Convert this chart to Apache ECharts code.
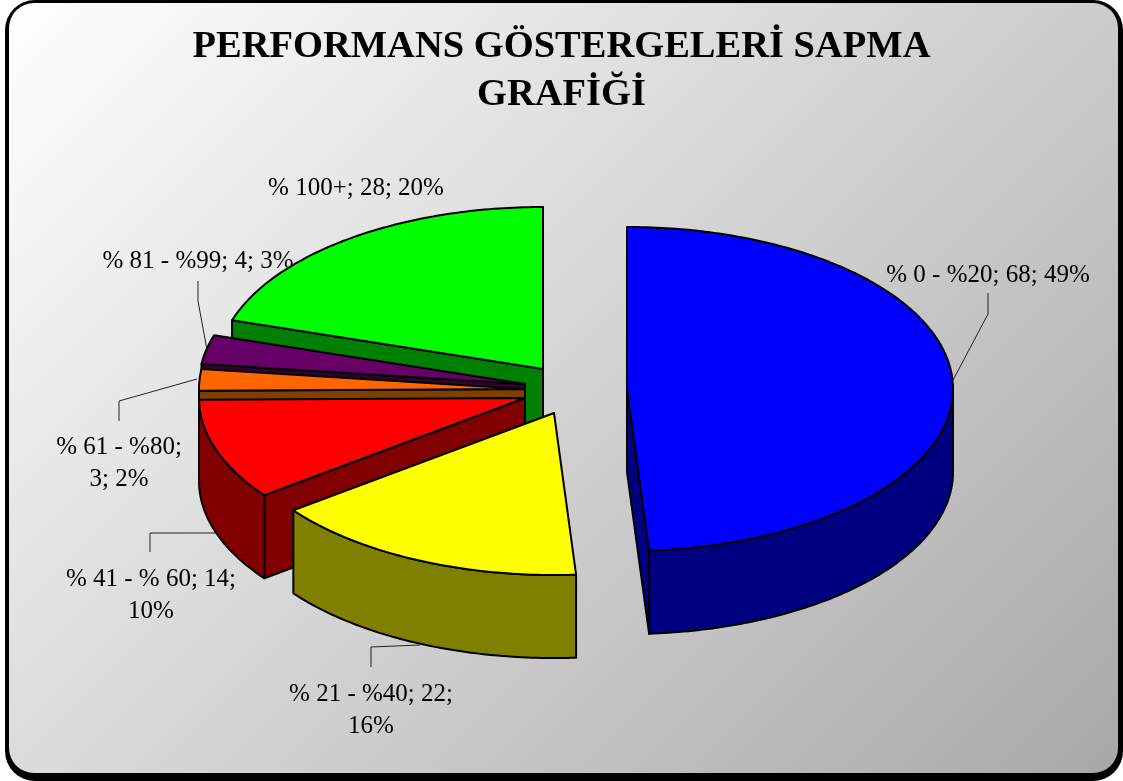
<!DOCTYPE html>
<html>
<head>
<meta charset="utf-8">
<title>Performans Göstergeleri Sapma Grafiği</title>
<script src="https://cdn.jsdelivr.net/npm/echarts@6/dist/echarts.min.js"></script>
<style>
html, body { margin: 0; padding: 0; background: #fff; }
#main { width: 1123px; height: 781px; }
</style>
</head>
<body>
<div id="main"></div>
<script>
var titleText = 'PERFORMANS GÖSTERGELERİ SAPMA\nGRAFİĞİ';
var categories = ['% 0 - %20', '% 21 - %40', '% 41 - % 60', '% 61 - %80', '% 81 - %99', '% 100+'];
var values = [68, 22, 14, 3, 4, 28];
var topColors = ['#0000ff', '#ffff00', '#ff0000', '#ff6600', '#660066', '#00ff00'];
var sideColors = ['#000080', '#808000', '#800000', '#804000', '#330033', '#008000'];

// pie placement, the tilt is done by squashing the polar circle
var baseX = 525, baseY = 385, pieRadius = 326, squash = 0.497, depth = 83;
var explode = [[102, 4], [29, 28], [0, 13], [0, 4], [0, -1], [18, -16]];

// label centre, line break after which part, leader line
var labelLayout = [
    { x: 988, y: 274, line: [[988, 293], [988, 314], [952, 382]] },
    { x: 371, y: 693, wrap: true, line: [[371, 667], [371, 647], [420, 645]] },
    { x: 151, y: 578, wrap: true, line: [[150, 552], [150, 533], [217, 533]] },
    { x: 119, y: 446, wrapEarly: true, line: [[119, 421], [119, 401], [197, 379]] },
    { x: 198, y: 260, line: [[198, 281], [198, 301], [207, 350]] },
    { x: 356, y: 187 }
];

var total = 0;
values.forEach(function (v) { total += v; });

// last slice first, the front ones have to paint over the back ones
var sliceData = [];
var cum = 0;
var starts = values.map(function (v) { var s = cum; cum += v; return s; });
for (var i = values.length - 1; i >= 0; i--) {
    sliceData.push([1, starts[i], values[i], i]);
}

function labelText(i) {
    var pct = Math.round(values[i] / total * 100) + '%';
    var l = labelLayout[i];
    if (l.wrap) return categories[i] + '; ' + values[i] + ';\n' + pct;
    if (l.wrapEarly) return categories[i] + ';\n' + values[i] + '; ' + pct;
    return categories[i] + '; ' + values[i] + '; ' + pct;
}

function renderSlice(params, api) {
    var start = api.value(1), val = api.value(2), idx = api.value(3);
    var cx = baseX + explode[idx][0], cy = baseY + explode[idx][1];

    // goes through the hidden polar axes
    function rimPoint(v) {
        var p = api.coord([1, v]);
        return [cx + (p[0] - baseX), cy + (p[1] - baseY) * squash];
    }
    function poly(points, fill) {
        return {
            type: 'polygon',
            shape: { points: points },
            style: { fill: fill, stroke: '#000', lineWidth: 2, lineJoin: 'round' }
        };
    }
    function down(p) { return [p[0], p[1] + depth]; }

    var rim = [];
    var steps = Math.max(4, Math.ceil(val * 3));
    for (var s = 0; s <= steps; s++) rim.push(rimPoint(start + val * s / steps));
    var first = rim[0], last = rim[rim.length - 1];
    var centre = [cx, cy];
    var children = [];

    if (first[0] < cx) {
        children.push(poly([centre, first, down(first), down(centre)], sideColors[idx]));
    }
    if (last[0] > cx) {
        children.push(poly([centre, last, down(last), down(centre)], sideColors[idx]));
    }
    var front = rim.filter(function (p) { return p[1] >= cy; });
    if (front.length > 1) {
        children.push(poly(front.concat(front.slice().reverse().map(down)), sideColors[idx]));
    }
    children.push(poly([centre].concat(rim), topColors[idx]));
    return { type: 'group', children: children };
}

function renderLabel(params, api) {
    var idx = api.value(3);
    var l = labelLayout[idx];
    var children = [{
        type: 'text',
        style: {
            x: l.x, y: l.y - 15,
            text: labelText(idx),
            fill: '#000',
            font: '25px "Liberation Serif"',
            lineHeight: 32,
            align: 'center',
            verticalAlign: 'top'
        }
    }];
    if (l.line) {
        children.push({
            type: 'polyline',
            shape: { points: l.line },
            style: { fill: 'none', stroke: '#222', lineWidth: 1 }
        });
    }
    return { type: 'group', children: children };
}

var myChart = echarts.init(document.getElementById('main'));
var option = {
    animation: false,
    textStyle: { fontFamily: 'Liberation Serif' },
    title: {
        text: titleText,
        left: 'center',
        top: 18,
        textStyle: {
            fontFamily: 'Liberation Serif',
            fontSize: 38.5,
            fontWeight: 'bold',
            color: '#000',
            lineHeight: 48
        }
    },
    polar: { center: [baseX, baseY], radius: pieRadius },
    angleAxis: { type: 'value', min: 0, max: total, startAngle: 90, show: false },
    radiusAxis: { type: 'value', min: 0, max: 1, show: false },
    graphic: [
        {
            type: 'rect', z: -10, silent: true,
            shape: { x: 5, y: 0, width: 1118, height: 781, r: 30 },
            style: { fill: '#000' }
        },
        {
            type: 'rect', z: -9, silent: true,
            shape: { x: 9, y: 3, width: 1109, height: 770, r: 25 },
            style: {
                // 45 degree fade in pixels, not corner to corner
                fill: {
                    type: 'linear', global: true,
                    x: 9, y: 3, x2: 949, y2: 943,
                    colorStops: [
                        { offset: 0, color: '#ffffff' },
                        { offset: 1, color: '#a8a8a8' }
                    ]
                }
            }
        }
    ],
    series: [
        {
            type: 'custom',
            coordinateSystem: 'polar',
            renderItem: renderSlice,
            encode: { radius: 0, angle: 1 },
            data: sliceData,
            silent: true,
            z: 2
        },
        {
            type: 'custom',
            coordinateSystem: 'polar',
            renderItem: renderLabel,
            encode: { radius: 0, angle: 1 },
            data: sliceData,
            silent: true,
            z: 3
        }
    ]
};
myChart.setOption(option);
</script>
</body>
</html>
